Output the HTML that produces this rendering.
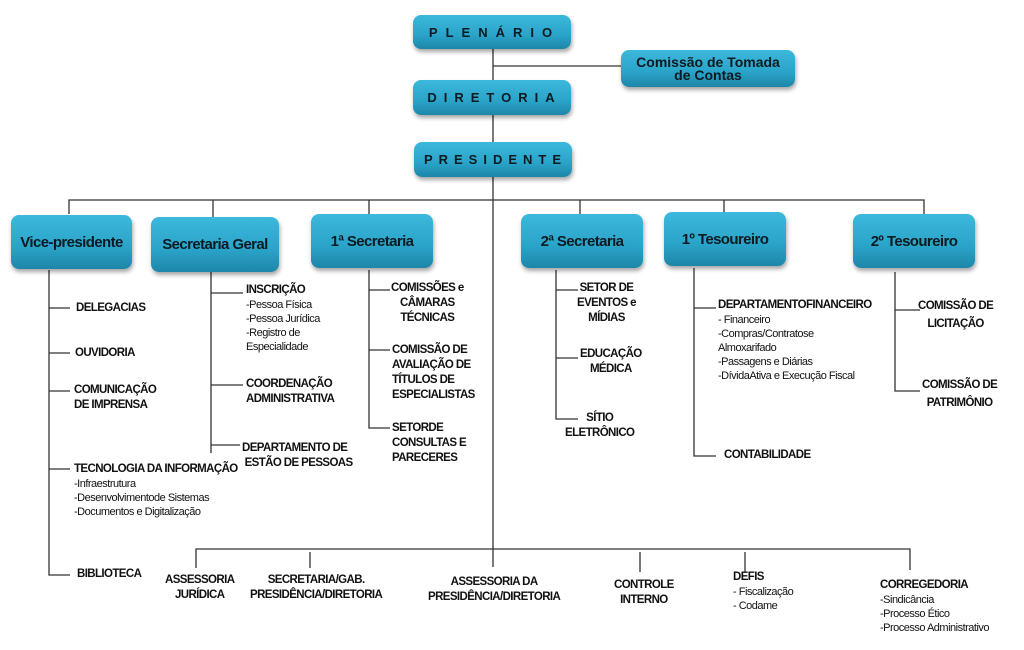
<!DOCTYPE html>
<html><head><meta charset="utf-8"><style>
body{margin:0;width:1024px;height:650px;background:#fff;position:relative;overflow:hidden;font-family:"Liberation Sans Narrow","Liberation Sans",sans-serif;color:#111}
svg{position:absolute;left:0;top:0}
.b{position:absolute;border-radius:8px;background:linear-gradient(#3cb9dc,#2aa3c8 60%,#1d86a8);box-shadow:1px 3px 4px rgba(0,0,0,.35);display:flex;align-items:center;justify-content:center;text-align:center;font-weight:bold;color:#0c1a22}
.sp{letter-spacing:6px;font-size:13px;font-family:"Liberation Sans",sans-serif;padding-left:5px;box-sizing:border-box}
.m{font-size:15px;letter-spacing:-0.6px}
.t{position:absolute;font-size:11.5px;font-weight:bold;line-height:15px;letter-spacing:-0.6px;white-space:nowrap}
.t span{font-weight:normal;display:block;font-size:11px;line-height:14px;letter-spacing:-0.5px}
.c{text-align:center}
</style></head><body>
<svg width="1024" height="650" stroke="#333" stroke-width="1.3" fill="none">
<path d="M493 49V567M493 66H621M69 214V200H924V214M213 217V200M369 214V200M580 214V200M724 212V200"/>
<path d="M49 270V575H70M49 308H70M49 353H70M49 391H70M49 469H70"/>
<path d="M211 272V453M211 293H243M211 385H243M211 445H240"/>
<path d="M369 270V428H390M369 290H390M369 350H390"/>
<path d="M556 270V419H578M556 290H578M556 358H578"/>
<path d="M694 268V456H716M694 308H716"/>
<path d="M895 272V391H920M895 310H920"/>
<path d="M196 568V549H910V570M310 552V568M640 552V572M745 552V572"/>
</svg>
<div class="b sp" style="left:413px;top:15px;width:158px;height:34px;letter-spacing:8px">PLENÁRIO</div>
<div class="b" style="left:621px;top:50px;width:174px;height:37px;font-size:14px;line-height:13px;font-family:'Liberation Sans',sans-serif">Comissão de Tomada<br>de Contas</div>
<div class="b sp" style="left:413px;top:80px;width:158px;height:35px;letter-spacing:7px">DIRETORIA</div>
<div class="b sp" style="left:414px;top:142px;width:158px;height:35px">PRESIDENTE</div>
<div class="b m" style="left:11px;top:215px;width:121px;height:54px">Vice-presidente</div>
<div class="b m" style="left:151px;top:217px;width:128px;height:55px">Secretaria Geral</div>
<div class="b m" style="left:311px;top:214px;width:122px;height:54px">1ª Secretaria</div>
<div class="b m" style="left:521px;top:214px;width:122px;height:54px">2ª Secretaria</div>
<div class="b m" style="left:664px;top:212px;width:122px;height:54px">1º Tesoureiro</div>
<div class="b m" style="left:853px;top:214px;width:122px;height:54px">2º Tesoureiro</div>

<div class="t" style="left:76px;top:301px">DELEGACIAS</div>
<div class="t" style="left:75px;top:346px">OUVIDORIA</div>
<div class="t" style="left:74px;top:383px">COMUNICAÇÃO<br>DE IMPRENSA</div>
<div class="t" style="left:74px;top:462px">TECNOLOGIA DA INFORMAÇÃO<span>-Infraestrutura</span><span>-Desenvolvimentode Sistemas</span><span>-Documentos e Digitalização</span></div>
<div class="t" style="left:77px;top:567px">BIBLIOTECA</div>

<div class="t" style="left:246px;top:283px">INSCRIÇÃO<span>-Pessoa Física</span><span>-Pessoa Jurídica</span><span>-Registro de</span><span>Especialidade</span></div>
<div class="t" style="left:246px;top:377px">COORDENAÇÃO<br>ADMINISTRATIVA</div>
<div class="t" style="left:242px;top:441px">DEPARTAMENTO DE<br>&nbsp;ESTÃO DE PESSOAS</div>

<div class="t c" style="left:391px;top:281px">COMISSÕES e<br>CÂMARAS<br>TÉCNICAS</div>
<div class="t" style="left:392px;top:343px">COMISSÃO DE<br>AVALIAÇÃO DE<br>TÍTULOS DE<br>ESPECIALISTAS</div>
<div class="t" style="left:392px;top:421px">SETORDE<br>CONSULTAS E<br>PARECERES</div>

<div class="t c" style="left:577px;top:281px">SETOR DE<br>EVENTOS e<br>MÍDIAS</div>
<div class="t c" style="left:580px;top:347px">EDUCAÇÃO<br>MÉDICA</div>
<div class="t c" style="left:565px;top:411px">SÍTIO<br>ELETRÔNICO</div>

<div class="t" style="left:718px;top:298px">DEPARTAMENTOFINANCEIRO<span>- Financeiro</span><span>-Compras/Contratose</span><span>Almoxarifado</span><span>-Passagens e Diárias</span><span>-DívidaAtiva e Execução Fiscal</span></div>
<div class="t" style="left:724px;top:448px">CONTABILIDADE</div>

<div class="t c" style="left:918px;top:297px;line-height:18px">COMISSÃO DE<br>LICITAÇÃO</div>
<div class="t c" style="left:922px;top:376px;line-height:18px">COMISSÃO DE<br>PATRIMÔNIO</div>

<div class="t c" style="left:165px;top:573px">ASSESSORIA<br>JURÍDICA</div>
<div class="t c" style="left:250px;top:573px">SECRETARIA/GAB.<br>PRESIDÊNCIA/DIRETORIA</div>
<div class="t c" style="left:428px;top:575px">ASSESSORIA DA<br>PRESIDÊNCIA/DIRETORIA</div>
<div class="t c" style="left:614px;top:578px">CONTROLE<br>INTERNO</div>
<div class="t" style="left:733px;top:570px">DEFIS<span>- Fiscalização</span><span>- Codame</span></div>
<div class="t" style="left:880px;top:578px">CORREGEDORIA<span>-Sindicância</span><span>-Processo Ético</span><span>-Processo Administrativo</span></div>
</body></html>
